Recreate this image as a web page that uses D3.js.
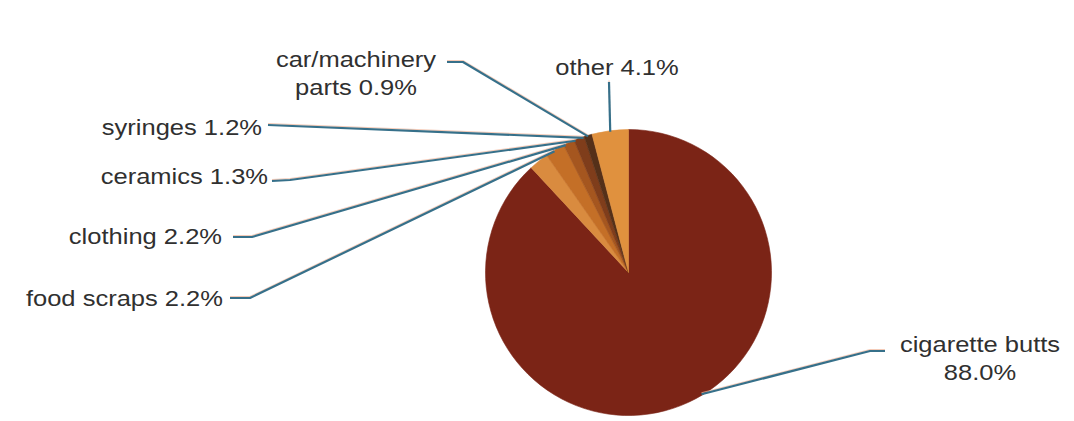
<!DOCTYPE html>
<html>
<head>
<meta charset="utf-8">
<script src="https://cdn.jsdelivr.net/npm/d3@7"></script>
<style>
  html, body { margin: 0; padding: 0; background: #ffffff; }
  svg { display: block; }
  text { font-family: "Liberation Sans", Arial, sans-serif; fill: #303030; }
</style>
</head>
<body>
<svg id="chart" width="1074" height="421"></svg>
<script>
// Litter composition (percent of items collected)
const categories = ["cigarette butts", "food scraps", "clothing", "ceramics", "syringes", "car/machinery parts", "other"];
const values = [88.0, 2.2, 2.2, 1.3, 1.2, 0.9, 4.1];
const sliceColors = ["#7b2416", "#d98b3f", "#c46f27", "#a5561f", "#7f3d1b", "#553019", "#e0913e"];

// Label layout: text lines, anchor point, alignment, elbow point of the leader,
// and where along each slice the leader meets the rim (0 = start, 1 = end).
const labelLines = [
  ["cigarette butts", "88.0%"],
  ["food scraps 2.2%"],
  ["clothing 2.2%"],
  ["ceramics 1.3%"],
  ["syringes 1.2%"],
  ["car/machinery", "parts 0.9%"],
  ["other 4.1%"]
];
const labelPos = [[980, 352], [223, 306], [222, 244], [268, 184], [262, 135], [356, 67], [617, 75]];
const labelAnchor = ["middle", "end", "end", "end", "end", "middle", "middle"];
const leaderStart = [[885, 351], [230, 298], [233, 237], [272, 181], [268, 125], [447, 62], [609, 82]];
const leaderElbow = [[870, 351], [250, 298], [252, 237], [290, 180], null, [463, 62], null];
const leaderAt = [0.47, 1.45, 1.1, 1.1, 0.9, 0.45, 0.5];

const cx = 628.5, cy = 272.5, radius = 143;
const fontSize = 22, stretchX = 1.16, lineGap = 28;

const svg = d3.select("#chart");
const g = svg.append("g").attr("transform", `translate(${cx},${cy})`);

const pie = d3.pie().sort(null).value(d => d)(values);
const arc = d3.arc().innerRadius(0).outerRadius(radius);

g.selectAll("path.slice")
  .data(pie)
  .join("path")
  .attr("class", "slice")
  .attr("d", arc)
  .attr("fill", (d, i) => sliceColors[i])
  .attr("stroke", (d, i) => sliceColors[i])
  .attr("stroke-width", 0.6);

// Leader lines from each label to the rim of its slice
function rimPoint(d, i) {
  const a = d.startAngle + (d.endAngle - d.startAngle) * leaderAt[i];
  const r = radius - 1;
  return [cx + r * Math.sin(a), cy - r * Math.cos(a)];
}
const line = d3.line();
const leaders = pie.map((d, i) => {
  const pts = [leaderStart[i]];
  if (leaderElbow[i]) pts.push(leaderElbow[i]);
  pts.push(rimPoint(d, i));
  return pts;
});

// soft warm fringe beside each leader
svg.append("g").selectAll("path")
  .data(leaders)
  .join("path")
  .attr("d", line)
  .attr("transform", "translate(0,-1.4)")
  .attr("fill", "none")
  .attr("stroke", "#f0b59a")
  .attr("stroke-opacity", 0.7)
  .attr("stroke-width", 1.3);

svg.append("g").selectAll("path")
  .data(leaders)
  .join("path")
  .attr("d", line)
  .attr("fill", "none")
  .attr("stroke", "#36708a")
  .attr("stroke-width", 2.2)
  .attr("stroke-linejoin", "round");

// Labels
const labels = svg.append("g").selectAll("text")
  .data(categories)
  .join("text")
  .attr("transform", (d, i) => `translate(${labelPos[i][0]},${labelPos[i][1]}) scale(${stretchX},1)`)
  .attr("text-anchor", (d, i) => labelAnchor[i])
  .attr("font-size", fontSize);

labels.each(function(d, i) {
  d3.select(this).selectAll("tspan")
    .data(labelLines[i])
    .join("tspan")
    .attr("x", 0)
    .attr("y", (t, k) => k * lineGap)
    .text(t => t);
});
</script>
</body>
</html>
